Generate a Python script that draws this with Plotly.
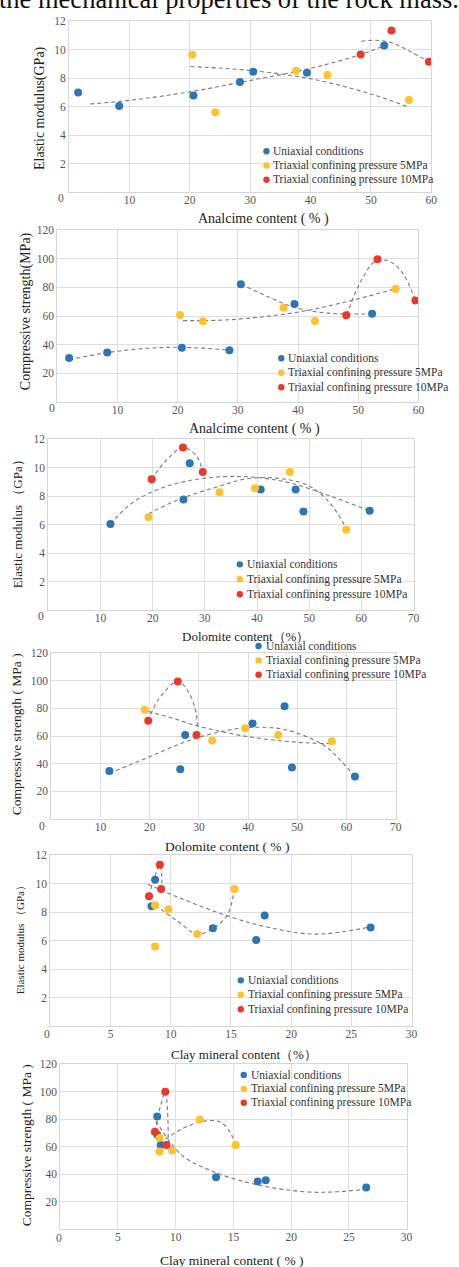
import plotly.graph_objects as go

W, H = 459, 1267
SERIF = "Liberation Serif"
BLUE, YELLOW, RED = "#2E75B6", "#FFC22A", "#E8392B"
TREND = "#7a7a7a"
SERIES = ["Uniaxial conditions", "Triaxial confining pressure 5MPa", "Triaxial confining pressure 10MPa"]
COLORS = [BLUE, YELLOW, RED]

# ---------------- Panel 1: Elastic modulus vs Analcime ----------------
ana_em_uni_x = [1.5, 8.3, 20.6, 28.3, 30.5, 39.4, 52.2]
ana_em_uni_y = [7.0, 6.06, 6.8, 7.74, 8.46, 8.39, 10.3]
ana_em_t5_x = [20.4, 24.2, 37.6, 42.8, 56.3]
ana_em_t5_y = [9.65, 5.62, 8.53, 8.23, 6.48]
ana_em_t10_x = [48.3, 53.4, 59.6]
ana_em_t10_y = [9.67, 11.37, 9.16]
ana_em_uni_trend_x = [3.5, 10, 20, 30, 40, 48.3, 52.2]
ana_em_uni_trend_y = [6.2, 6.45, 7.05, 7.85, 8.7, 9.67, 10.3]
ana_em_t5_trend_x = [20.1, 30, 40, 50, 56.3]
ana_em_t5_trend_y = [8.83, 8.55, 7.97, 6.9, 5.97]
ana_em_t10_trend_x = [48.4, 50.7, 53.5, 56.7, 59.6]
ana_em_t10_trend_y = [10.6, 10.68, 10.49, 9.84, 9.16]

# ---------------- Panel 2: Compressive strength vs Analcime ----------------
ana_cs_uni_x = [1.97, 8.3, 20.7, 28.6, 30.5, 39.4, 52.3]
ana_cs_uni_y = [30.8, 34.5, 37.8, 36.1, 82.2, 68.3, 61.6]
ana_cs_t5_x = [20.4, 24.2, 37.6, 42.8, 56.2]
ana_cs_t5_y = [60.7, 56.3, 65.8, 56.5, 78.8]
ana_cs_t10_x = [48.0, 53.2, 59.5]
ana_cs_t10_y = [60.5, 99.6, 70.9]
ana_cs_uni_trend1_x = [2.0, 8.3, 15, 20.7, 28.6]
ana_cs_uni_trend1_y = [29.5, 34.5, 37.5, 38.2, 36.3]
ana_cs_uni_trend2_x = [30.5, 35, 39.4, 45, 52.3]
ana_cs_uni_trend2_y = [82.2, 73.5, 66.0, 62.0, 61.5]
ana_cs_t5_trend_x = [20.9, 28.7, 39.7, 47.9, 56.2]
ana_cs_t5_trend_y = [56.8, 57.4, 62.5, 69.8, 79.0]
ana_cs_t10_trend_x = [48.1, 50.4, 52.8, 55.0, 57.2, 59.5]
ana_cs_t10_trend_y = [60.9, 84.0, 98.0, 98.4, 91.0, 70.9]

# ---------------- Panel 3: Elastic modulus vs Dolomite ----------------
dol_em_uni_x = [11.9, 25.9, 27.1, 40.7, 47.4, 48.9, 61.6]
dol_em_uni_y = [6.04, 7.75, 10.3, 8.45, 8.45, 6.92, 6.96]
dol_em_t5_x = [19.2, 32.8, 39.6, 46.3, 57.1]
dol_em_t5_y = [6.52, 8.26, 8.54, 9.68, 5.64]
dol_em_t10_x = [19.8, 25.8, 29.6]
dol_em_t10_y = [9.17, 11.4, 9.68]
dol_em_uni_trend_x = [11.9, 16, 22, 30, 38, 46, 54, 61.6]
dol_em_uni_trend_y = [6.04, 7.5, 8.6, 9.25, 9.35, 8.95, 8.0, 6.96]
dol_em_t5_trend_x = [19.2, 25, 32, 38, 44, 50, 54, 57.1]
dol_em_t5_trend_y = [6.75, 7.75, 8.6, 9.2, 9.25, 8.7, 7.5, 5.75]
dol_em_t10_trend_x = [19.8, 22.6, 25.8, 28.4, 29.6]
dol_em_t10_trend_y = [9.17, 10.5, 11.4, 10.8, 9.68]

# ---------------- Panel 4: Compressive strength vs Dolomite ----------------
dol_cs_uni_x = [11.8, 26.2, 27.2, 40.9, 47.4, 48.9, 61.7]
dol_cs_uni_y = [34.7, 36.1, 60.7, 69.1, 81.5, 37.3, 30.8]
dol_cs_t5_x = [19.0, 32.7, 39.4, 46.1, 57.0]
dol_cs_t5_y = [78.9, 56.7, 65.7, 60.7, 56.2]
dol_cs_t10_x = [19.7, 25.7, 29.5]
dol_cs_t10_y = [71.0, 99.4, 60.7]
dol_cs_uni_trend_x = [11.8, 19.7, 27, 33.7, 40.4, 47, 53, 56.4, 61.7]
dol_cs_uni_trend_y = [33.2, 44.6, 55.5, 62.6, 66.2, 65.0, 57.8, 50.6, 30.8]
dol_cs_t5_trend_x = [19.7, 25, 30, 40, 50, 57]
dol_cs_t5_trend_y = [77.7, 72.5, 67.0, 59.5, 55.5, 54.5]
dol_cs_t10_trend_x = [19.7, 21.7, 25.7, 28.0, 29.4, 29.7]
dol_cs_t10_trend_y = [71.0, 86.0, 99.4, 91.0, 77.0, 65.0]

# ---------------- Panel 5: Elastic modulus vs Clay ----------------
clay_em_uni_x = [8.4, 8.7, 13.5, 17.1, 17.8, 26.6]
clay_em_uni_y = [8.41, 10.27, 6.87, 6.03, 7.76, 6.92]
clay_em_t5_x = [8.7, 8.7, 9.8, 12.2, 15.3]
clay_em_t5_y = [8.48, 5.59, 8.2, 6.46, 9.62]
clay_em_t10_x = [8.2, 9.1, 9.2]
clay_em_t10_y = [9.11, 11.32, 9.62]
clay_em_uni_trend_x = [8.1, 11, 15, 18, 22, 26.6]
clay_em_uni_trend_y = [9.95, 8.9, 7.65, 6.95, 6.45, 6.96]
clay_em_t5_trend_x = [8.7, 10.6, 12.2, 13.6, 14.7, 15.3]
clay_em_t5_trend_y = [8.48, 7.34, 6.45, 6.9, 7.8, 9.62]
clay_em_t10_trend_x = [8.2, 8.6, 9.1, 9.25, 9.25]
clay_em_t10_trend_y = [9.11, 10.3, 11.32, 10.6, 9.67]

# ---------------- Panel 6: Compressive strength vs Clay ----------------
clay_cs_uni_x = [8.4, 8.4, 8.7, 13.5, 17.1, 17.8, 26.5]
clay_cs_uni_y = [81.8, 68.5, 61.1, 37.8, 34.6, 35.6, 30.3]
clay_cs_t5_x = [8.6, 8.6, 9.7, 12.1, 15.2]
clay_cs_t5_y = [66.4, 56.5, 57.2, 79.6, 61.1]
clay_cs_t10_x = [8.2, 9.1, 9.2]
clay_cs_t10_y = [70.7, 99.8, 61.1]
clay_cs_uni_trend_x = [8.3, 10.5, 13.5, 17.5, 21.5, 24, 26.5]
clay_cs_uni_trend_y = [78.6, 54.0, 41.0, 31.5, 27.0, 27.2, 29.0]
clay_cs_t5_trend_x = [8.6, 10.7, 12.5, 13.8, 14.6, 15.2]
clay_cs_t5_trend_y = [62.5, 73.5, 78.5, 78.0, 72.0, 61.1]
clay_cs_t10_trend_x = [8.2, 8.7, 9.1, 9.3, 9.35]
clay_cs_t10_trend_y = [70.7, 90.0, 99.8, 85.0, 63.0]

# Tick values
em_ticks = [2, 4, 6, 8, 10, 12]
cs_ticks = [20, 40, 60, 80, 100, 120]
ana_xticks = [10, 20, 30, 40, 50, 60]
dol_xticks = [10, 20, 30, 40, 50, 60, 70]
clay_xticks = [5, 10, 15, 20, 25, 30]

panels = [
    dict(series=[(ana_em_uni_x, ana_em_uni_y), (ana_em_t5_x, ana_em_t5_y), (ana_em_t10_x, ana_em_t10_y)],
         trends=[(ana_em_uni_trend_x, ana_em_uni_trend_y), (ana_em_t5_trend_x, ana_em_t5_trend_y),
                 (ana_em_t10_trend_x, ana_em_t10_trend_y)],
         xticks=ana_xticks, yticks=em_ticks, xmax=60, ymax=12,
         xtitle="Analcime content ( % )", ytitle="Elastic modulus(GPa)",
         box=(70, 437, 15.5, 187), xt=(267, 214, 14), yt=(40, 102, 14), zero=(62, 193),
         leg=(270, 146, 14.3)),
    dict(series=[(ana_cs_uni_x, ana_cs_uni_y), (ana_cs_t5_x, ana_cs_t5_y), (ana_cs_t10_x, ana_cs_t10_y)],
         trends=[(ana_cs_uni_trend1_x, ana_cs_uni_trend1_y), (ana_cs_uni_trend2_x, ana_cs_uni_trend2_y),
                 (ana_cs_t5_trend_x, ana_cs_t5_trend_y), (ana_cs_t10_trend_x, ana_cs_t10_trend_y)],
         xticks=ana_xticks, yticks=cs_ticks, xmax=60, ymax=120,
         xtitle="Analcime content ( % )", ytitle="Compressive strength(MPa)",
         box=(58, 424, 225, 398), xt=(258, 425, 14), yt=(26, 307, 14), zero=(53, 404),
         leg=(285, 354, 14.5)),
    dict(series=[(dol_em_uni_x, dol_em_uni_y), (dol_em_t5_x, dol_em_t5_y), (dol_em_t10_x, dol_em_t10_y)],
         trends=[(dol_em_uni_trend_x, dol_em_uni_trend_y), (dol_em_t5_trend_x, dol_em_t5_trend_y),
                 (dol_em_t10_trend_x, dol_em_t10_trend_y)],
         xticks=dol_xticks, yticks=em_ticks, xmax=70, ymax=12,
         xtitle="Dolomite content（%）", ytitle="Elastic modulus （GPa）",
         box=(49, 419, 435, 607), xt=(249, 634, 13), yt=(18, 517, 13), zero=(42, 613),
         leg=(243, 561, 15)),
    dict(series=[(dol_cs_uni_x, dol_cs_uni_y), (dol_cs_t5_x, dol_cs_t5_y), (dol_cs_t10_x, dol_cs_t10_y)],
         trends=[(dol_cs_uni_trend_x, dol_cs_uni_trend_y), (dol_cs_t5_trend_x, dol_cs_t5_trend_y),
                 (dol_cs_t10_trend_x, dol_cs_t10_trend_y)],
         xticks=dol_xticks, yticks=cs_ticks, xmax=70, ymax=120,
         xtitle="Dolomite content ( % )", ytitle="Compressive strength ( MPa )",
         box=(52, 401, 650, 817), xt=(230, 844, 13.5), yt=(17, 732, 13.5), zero=(43, 824),
         leg=(262, 643, 14.5)),
    dict(series=[(clay_em_uni_x, clay_em_uni_y), (clay_em_t5_x, clay_em_t5_y), (clay_em_t10_x, clay_em_t10_y)],
         trends=[(clay_em_uni_trend_x, clay_em_uni_trend_y), (clay_em_t5_trend_x, clay_em_t5_trend_y),
                 (clay_em_t10_trend_x, clay_em_t10_trend_y)],
         xticks=clay_xticks, yticks=em_ticks, xmax=30, ymax=12,
         xtitle="Clay mineral content（%）", ytitle="Elastic modulus （GPa）",
         box=(51, 417, 853, 1025), xt=(247, 1053, 13), yt=(20, 936, 11), zero=(48, 1033),
         leg=(244, 979, 14.5)),
    dict(series=[(clay_cs_uni_x, clay_cs_uni_y), (clay_cs_t5_x, clay_cs_t5_y), (clay_cs_t10_x, clay_cs_t10_y)],
         trends=[(clay_cs_uni_trend_x, clay_cs_uni_trend_y), (clay_cs_t5_trend_x, clay_cs_t5_trend_y),
                 (clay_cs_t10_trend_x, clay_cs_t10_trend_y)],
         xticks=clay_xticks, yticks=cs_ticks, xmax=30, ymax=120,
         xtitle="Clay mineral content ( % )", ytitle="Compressive strength ( MPa )",
         box=(61, 412, 1063, 1229), xt=(235, 1260, 13.5), yt=(27, 1145, 13.5), zero=(60, 1238),
         leg=(247, 1074, 14)),
]


def px(x):
    return x / W


def py(y):
    return 1 - y / H


fig = go.Figure()
annotations = []
shapes = []
layout_axes = {}

for i, p in enumerate(panels, start=1):
    xa = "x" if i == 1 else f"x{i}"
    ya = "y" if i == 1 else f"y{i}"
    l, r, t, b = p["box"]
    # trend lines (dashed)
    for tx, ty in p["trends"]:
        fig.add_trace(go.Scatter(x=tx, y=ty, mode="lines", xaxis=xa, yaxis=ya,
                                 line=dict(color=TREND, width=1.1, dash="4px,3px", shape="spline", smoothing=1.0),
                                 showlegend=False, hoverinfo="skip"))
    # scatter points
    for (sx, sy), name, col in zip(p["series"], SERIES, COLORS):
        fig.add_trace(go.Scatter(x=sx, y=sy, mode="markers", name=name, xaxis=xa, yaxis=ya,
                                 marker=dict(color=col, size=8, line=dict(width=0)),
                                 showlegend=False))
    axis_common = dict(showgrid=True, gridcolor="#dedede", gridwidth=1, zeroline=False,
                       showline=True, linecolor="#d6d6d6", linewidth=1, mirror=True, ticks="",
                       tickfont=dict(family=SERIF, size=11.5, color="#555555"), fixedrange=True)
    layout_axes["xaxis" if i == 1 else f"xaxis{i}"] = dict(
        domain=[px(l), px(r)], range=[0, p["xmax"]], tickvals=p["xticks"], anchor=ya,
        ticklabelstandoff=-3, **axis_common)
    layout_axes["yaxis" if i == 1 else f"yaxis{i}"] = dict(
        domain=[py(b), py(t)], range=[0, p["ymax"]], tickvals=p["yticks"], anchor=xa, **axis_common)
    # axis titles
    xtx, xty, xts = p["xt"]
    annotations.append(dict(text=p["xtitle"], x=px(xtx), y=py(xty), xref="paper", yref="paper",
                            xanchor="center", yanchor="middle", showarrow=False,
                            font=dict(family=SERIF, size=xts, color="#222222")))
    ytx, yty, yts = p["yt"]
    annotations.append(dict(text=p["ytitle"], x=px(ytx), y=py(yty), xref="paper", yref="paper",
                            xanchor="center", yanchor="middle", showarrow=False, textangle=-90,
                            font=dict(family=SERIF, size=yts, color="#222222")))
    zx, zy = p["zero"]
    annotations.append(dict(text="0", x=px(zx), y=py(zy), xref="paper", yref="paper",
                            xanchor="center", yanchor="middle", showarrow=False,
                            font=dict(family=SERIF, size=11.5, color="#555555")))
    # legend (symbol + label)
    lx, ly, step = p["leg"]
    for k, (name, col) in enumerate(zip(SERIES, COLORS)):
        yy = ly + k * step
        shapes.append(dict(type="circle", xref="paper", yref="paper", xsizemode="pixel", ysizemode="pixel",
                           xanchor=px(lx), yanchor=py(yy), x0=-3.2, x1=3.2, y0=-3.2, y1=3.2,
                           fillcolor=col, line=dict(width=0)))
        annotations.append(dict(text=name, x=px(lx + 5), y=py(yy), xref="paper", yref="paper",
                                xanchor="left", yanchor="middle", showarrow=False,
                                font=dict(family=SERIF, size=11.5, color="#333333")))

annotations.append(dict(text="the mechanical properties of the rock mass.", x=px(-3), y=py(-7),
                        xref="paper", yref="paper", xanchor="left", yanchor="middle", showarrow=False,
                        font=dict(family=SERIF, size=26.5, color="#111111")))

fig.update_layout(width=W, height=H, margin=dict(l=0, r=0, t=0, b=0),
                  paper_bgcolor="white", plot_bgcolor="white", showlegend=False,
                  annotations=annotations, shapes=shapes, **layout_axes)

fig.write_html("out.html", config={"displayModeBar": False},
               post_script="document.body.style.margin='0';document.body.style.overflow='hidden';")
